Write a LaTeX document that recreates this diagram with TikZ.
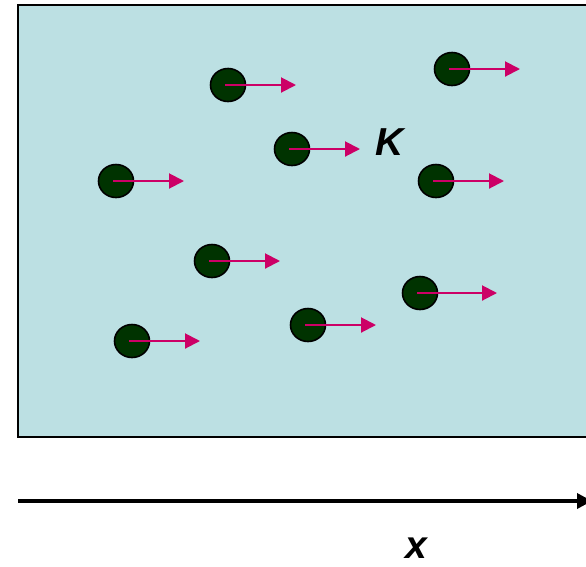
\documentclass[tikz,border=0pt]{standalone}
\usepackage{fontspec}
\setmainfont{Liberation Sans}
\usetikzlibrary{arrows.meta,shapes.geometric}
\definecolor{bgblue}{RGB}{188,224,227}
\definecolor{ballgreen}{RGB}{0,51,0}
\definecolor{velmag}{RGB}{204,0,102}
\tikzset{
  ball/.style={ellipse, draw=black, line width=1.6pt, fill=ballgreen, minimum width=35pt, minimum height=33pt, inner sep=0pt},
  vel/.style={draw=velmag, line width=2pt, -{Triangle[length=15pt,width=15pt]}},
  lbl/.style={font=\fontsize{39}{39}\selectfont\bfseries\itshape, inner sep=0pt}
}
\begin{document}
\begin{tikzpicture}[x=1pt,y=-1pt]
\useasboundingbox (0,0) rectangle (586,566);
\draw[fill=bgblue, line width=2.5pt] (18,5) rectangle (600,437);
\foreach \n/\cx/\cy/\ex in {a/228/85/296, b/452/69/520, c/292/149/360, d/116/181/184, e/436/181/504, f/212/261/280, g/420/293/497, h/132/341/200, i/308/325/376}{
  \node[ball] (\n) at (\cx,\cy) {};
  \coordinate (\n s) at ([xshift=-3pt]\n.center);
  \coordinate (\n e) at (\ex,\cy);
  \draw[vel] (\n s) -- (\n e);
}
\node[lbl] (K) at (390,142) {K};
\coordinate (xs) at (18,501);
\coordinate (xe) at (592,501);
\draw[line width=3.5pt, -{Triangle[length=15pt,width=15pt]}] (xs) -- (xe);
\node[lbl] (X) at (416,548) {x};
\end{tikzpicture}
\end{document}
